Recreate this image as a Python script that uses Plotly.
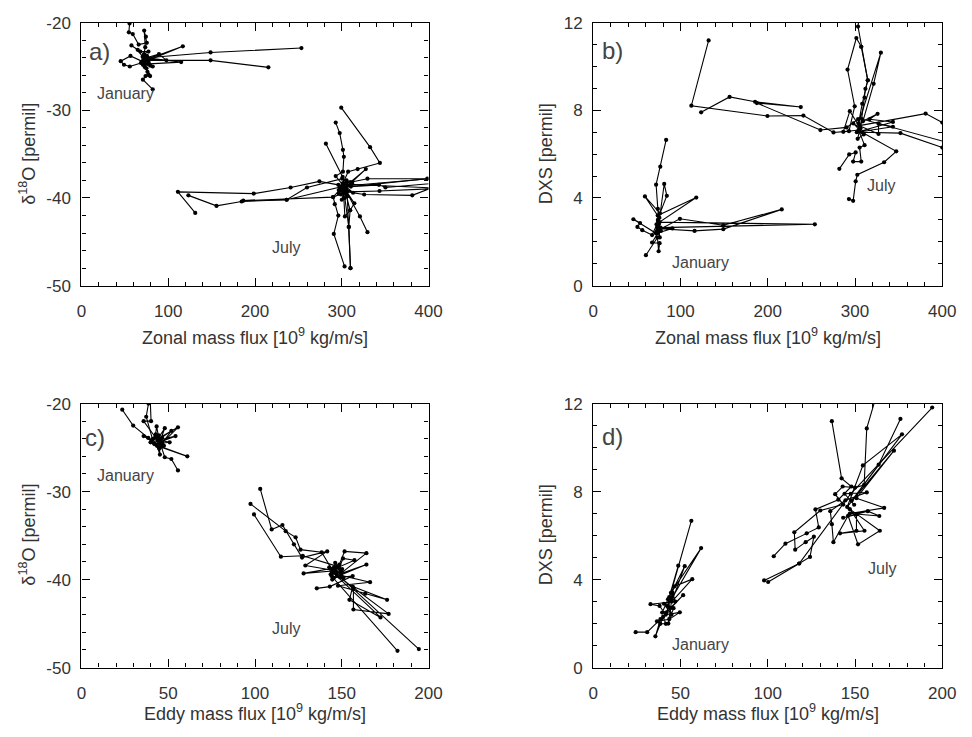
import plotly.graph_objects as go

# ---------------------------------------------------------------
# Trajectories of monthly-mean values (None breaks a track)
# ---------------------------------------------------------------

# a) zonal mass flux vs d18O
a_jan_x = [253.5, 148.8, 76.0, 70.8, 74.9, 71.8, 76.8, 73.0, 78.5, 72.2, 75.6, 72.5, 75.5, 79.1, 82.1, 74.0, 148.8, 215.4, None,
           56.0, 55.4, 54.6, 59.1, 65.9, 75.3, 74.2, 72.3, 73.5, 72.0, 77.2, 67.8, 57.6, 64.8, 70.5, 74.5, 116.8,
           77.5, 76.0, 56.5, 45.2, 49.0, 55.7, 68.5, 72.0, 97.9, 89.3, 74.8, 114.9, 78.0, 71.0, 73.2, 76.0, 77.2,
           79.1, 73.8, 70.8, 82.1]
a_jan_y = [-22.9, -23.4, -24.0, -24.8, -25.2, -23.9, -24.4, -23.8, -24.2, -24.9, -24.5, -24.6, -23.8, -24.9, -25.0, -24.3, -24.3, -25.1, None,
           -19.5, -20.1, -21.1, -21.3, -22.5, -22.3, -21.6, -20.9, -22.8, -23.6, -23.3, -23.3, -22.6, -23.1, -23.9, -24.4, -22.7,
           -24.1, -24.7, -23.8, -24.4, -24.8, -25.0, -24.6, -24.1, -24.3, -23.6, -24.0, -24.5, -24.7, -24.3, -25.1, -25.6, -25.9,
           -26.1, -26.1, -26.5, -27.6]

a_jul_x = [131.1, 111.1, 198.5, 241.0, 274.2, 296.0, 303.5, 299.0, 306.0, 300.5, 259.9, 236.5, 184.6, 155.6, 123.2, None,
           299.4, 332.6, 343.9, 318.3, 307.3, 301.5, 305.0, 293.0, 301.3, 302.4, 301.3, 297.6, 293.0, None,
           281.7, 301.0, 304.0, 327.7, 310.0, 329.6, 398.5, 310.5, 342.8, 350.3, 420.0, 381.2, 325.8, 306.0, 343.5, 415.0,
           302.0, 298.0, 306.5, 300.0, 304.5, 236.5, 186.5, 290.0, 302.0, 303.6, 309.6, 314.5, 303.0, 320.9, 329.6, None,
           303.2, 290.8, 296.0, 291.9, 290.0, 299.0, 305.5, 310.0, 308.1, 309.6, 305.0, 296.5, 312.0, 300.5, 307.0, 425.0, None,
           310.0, 308.1, 303.5, 298.0, 313.0, 301.0, 296.5, 304.0]
a_jul_y = [-41.7, -39.3, -39.5, -38.8, -38.1, -38.5, -39.2, -39.6, -38.2, -37.8, -38.8, -40.2, -40.4, -40.9, -39.7, None,
           -29.7, -34.2, -36.0, -36.7, -37.0, -38.3, -39.0, -37.5, -37.0, -35.3, -34.5, -32.6, -31.4, None,
           -33.8, -37.6, -38.9, -36.7, -38.2, -37.8, -37.8, -38.7, -38.5, -38.8, -38.2, -39.7, -39.6, -39.3, -39.2, -38.9,
           -38.4, -39.0, -39.8, -40.2, -38.6, -40.2, -40.3, -39.9, -39.4, -42.1, -41.4, -40.6, -38.9, -42.1, -43.9, None,
           -47.8, -44.1, -42.0, -40.7, -39.9, -38.9, -38.0, -48.0, -43.3, -41.4, -39.6, -39.1, -38.3, -39.0, -38.6, -37.6, None,
           -48.0, -43.3, -40.0, -38.7, -39.4, -38.4, -39.5, -38.8]

# b) zonal mass flux vs deuterium excess
b_jan_x = [83.5, 76.8, 72.0, 74.0, 75.0, 81.3, 84.3, 76.5, 59.2, 73.8, 118.0, 76.0, 73.0, 99.3, 149.0, 216.0, 149.0,
           116.1, 76.5, 72.5, 77.5, 74.0, 76.2, 73.2, 75.8, 71.5, 46.0, 53.6, 50.6, 56.2, 67.4, 74.2, 253.9, 77.0,
           90.6, 74.0, 67.4, 76.0, 74.9, 73.5, 60.3]
b_jan_y = [6.65, 5.43, 4.61, 3.5, 2.8, 4.64, 4.10, 3.3, 4.07, 3.2, 4.02, 2.9, 2.5, 3.05, 2.76, 3.48, 2.58,
           2.50, 2.6, 2.8, 2.5, 3.0, 2.2, 2.65, 3.1, 2.4, 3.03, 2.86, 2.68, 2.53, 2.31, 2.9, 2.80, 2.65,
           2.61, 2.4, 1.97, 1.94, 1.57, 2.2, 1.39]

b_jul_x = [123.6, 156.2, 185.4, 237.8, 187.5, 260.3, 290.3, 303.5, 306.2, 310.9, 311.9, 314.6, 307.1, 303.4, 305.5, None,
           132.2, 112.4, 199.6, 240.8, 275.3, 293.0, 299.6, 291.4, 301.5, 307.1, 314.6, 308.2, 304.0, 329.6, 321.3,
           309.0, 325.8, 316.5, 343.4, 302.0, 343.4, 326.9, 326.9, 305.0, 380.9, 400.0, 415.0, None,
           420.0, 400.0, 352.0, 308.0, 347.2, 333.3, 302.6, 300.7, 297.8, 293.0, None,
           282.0, 293.3, 300.7, 297.8, 307.1, 305.2, 310.9, 304.0, 286.5, 294.0, 306.0, 298.0, 310.0, 303.0, 308.0, 418.0]
b_jul_y = [7.91, 8.61, 8.39, 8.15, 8.33, 7.10, 7.22, 7.6, 7.17, 8.58, 8.98, 9.37, 10.9, 11.82, 12.6, None,
           11.19, 8.21, 7.74, 7.76, 6.99, 7.05, 8.18, 9.86, 11.3, 10.9, 9.37, 8.3, 7.4, 10.63, 9.21,
           7.5, 7.84, 7.59, 7.47, 7.0, 7.25, 7.39, 6.92, 7.3, 7.85, 7.44, 7.2, None,
           6.2, 6.3, 6.96, 7.0, 6.13, 5.63, 5.06, 4.76, 3.87, 3.95, None,
           5.33, 5.99, 6.08, 5.66, 5.66, 6.30, 6.41, 7.1, 7.02, 7.96, 7.2, 7.4, 6.9, 6.7, 7.6, 6.4]

# c) eddy mass flux vs d18O
c_jan_x = [23.5, 29.8, 38.5, 42.0, 35.8, 41.0, 37.3, 38.6, 37.0, None,
           39.5, 40.1, 35.8, 42.5, 43.3, 45.0, 48.0, 44.0, 55.6, 46.5, 51.8, 43.8, 54.2, 42.0, 50.8, 41.2, 46.5,
           44.8, 39.8, 47.5, 42.8, 44.5, 45.2, 43.5, 61.0, 46.0, 48.0, 51.8, 55.6]
c_jan_y = [-20.7, -22.5, -23.9, -24.5, -23.7, -24.1, -21.5, -20.0, -19.0, None,
           -19.0, -22.0, -22.0, -23.8, -22.6, -24.4, -22.8, -24.0, -22.7, -24.5, -23.1, -24.2, -23.7, -24.6, -24.4, -24.0, -23.9,
           -25.1, -24.4, -24.8, -23.5, -23.6, -25.8, -24.8, -26.0, -24.9, -26.1, -26.3, -27.6]

c_jul_x = [103.0, 109.6, 115.8, 122.4, 127.1, 141.6, 129.0, 146.5, 128.0, 148.0, 151.6, 164.2, 149.5, 164.2, 145.5,
           156.3, 143.1, 135.6, None,
           97.4, 117.7, 123.4, 126.2, 138.4, 144.5, 157.3, 150.7, 147.0, 166.3, 147.8, 163.5, 176.1, 156.3, 154.4,
           172.3, 145.0, 177.0, 156.7, 156.7, 149.0, 194.4, None,
           99.4, 114.9, 127.5, 147.5, 145.5, 149.8, 143.6, 148.6, 151.0, 146.2, 144.5, 150.2, 142.8, 144.1, 182.1]
c_jul_y = [-29.7, -34.3, -33.8, -36.0, -37.5, -36.8, -38.4, -39.0, -39.3, -38.6, -36.8, -37.0, -39.3, -38.3, -39.8,
           -39.6, -40.8, -41.0, None,
           -31.4, -34.5, -35.2, -36.6, -36.9, -38.9, -37.8, -37.6, -39.4, -40.3, -40.7, -41.6, -42.3, -40.8, -42.3,
           -44.3, -39.2, -43.9, -43.4, -41.0, -39.7, -47.9, None,
           -32.6, -37.4, -37.3, -38.5, -38.6, -39.0, -39.4, -38.3, -39.8, -38.1, -40.0, -38.8, -38.6, -39.6, -48.1]

# d) eddy mass flux vs deuterium excess
d_jan_x = [56.2, 44.5, 61.8, 42.5, 48.7, 43.5, 52.4, 45.0, 56.7, 46.4, 42.0, 51.5, 44.0, 40.5, 44.8, 42.8, 39.5,
           46.0, 43.0, 45.5, 47.0, 32.8, 38.0, 41.5, 49.6, 43.5, 36.5, 38.4, 41.6, 40.0, 35.6, 38.5, 30.9, 24.3]
d_jan_y = [6.67, 3.4, 5.43, 2.8, 4.63, 3.2, 4.61, 3.0, 4.02, 3.69, 2.5, 3.29, 2.7, 2.9, 2.4, 3.1, 2.5,
           2.7, 2.0, 3.4, 3.0, 2.88, 2.80, 2.4, 2.51, 2.2, 2.10, 1.99, 1.99, 2.3, 1.42, 2.2, 1.61, 1.61]

d_jul_x = [136.7, 142.3, 147.9, 140.4, 127.3, 129.2, 122.3, 110.1, 103.4, None,
           97.9, 118.0, 124.2, 126.4, 121.7, 115.7, 115.2, 130.1, 143.2, 138.6, 142.9, 150.0, 155.2, 156.7, 162.0, None,
           100.2, 118.0, 147.5, 194.2, None,
           176.0, 163.5, 148.1, 176.9, 154.5, 145.5, 172.3, 150.8, 166.7, 147.0, 163.9, 157.3, 143.2, 150.8, 150.8,
           141.4, 155.4, 147.0, 164.2, 151.7, 146.0, 137.6, 136.7, 135.8, 144.5, 156.7, 144.0, 149.5]
d_jul_y = [11.2, 8.6, 8.23, 7.63, 7.19, 6.37, 6.1, 5.63, 5.06, None,
           3.96, 4.73, 5.03, 5.95, 5.7, 5.36, 6.15, 7.14, 7.41, 7.88, 8.23, 8.18, 8.3, 10.87, 12.3, None,
           3.89, 4.73, 7.9, 11.82, None,
           11.3, 9.22, 7.59, 10.6, 9.19, 7.3, 9.86, 7.7, 7.26, 7.0, 6.89, 7.11, 6.81, 6.96, 6.22,
           6.1, 6.22, 7.2, 6.22, 5.6, 6.9, 5.7, 6.52, 7.11, 7.6, 7.96, 7.9, 7.4]

# tick values / labels
zonal_ticks = [0, 100, 200, 300, 400]
eddy_ticks = [0, 50, 100, 150, 200]
d18o_ticks = [-50, -40, -30, -20]
dxs_ticks = [0, 4, 8, 12]

# panel labels and month labels (data coordinates)
panel_tags = ["a)", "b)", "c)", "d)"]
month_labels = [
    ("x", "y", "January", 50.3, -28.05), ("x", "y", "July", 236, -45.6),
    ("x2", "y2", "January", 123, 1.07), ("x2", "y2", "July", 330, 4.56),
    ("x3", "y3", "January", 25.1, -28.2), ("x3", "y3", "July", 118, -45.6),
    ("x4", "y4", "January", 61.5, 1.06), ("x4", "y4", "July", 165.2, 4.52),
]

zonal_title = "Zonal mass flux [10<sup>9</sup> kg/m/s]"
eddy_title = "Eddy mass flux [10<sup>9</sup> kg/m/s]"
d18o_title = "\u03b4<sup>18</sup>O [permil]"
dxs_title = "DXS [permil]"

# ---------------------------------------------------------------
W, H = 972, 737
FONT = "Liberation Sans, Arial, Helvetica, sans-serif"
TXT = "#333333"


def px(x):
    return x / W


def py(y):
    return 1 - y / H


left_dom = [px(78), px(432)]
right_dom = [px(600), px(956)]
top_dom = [py(284), py(14)]
bot_dom = [py(676), py(405)]

fig = go.Figure()

series = [
    (a_jan_x, a_jan_y, "x", "y"), (a_jul_x, a_jul_y, "x", "y"),
    (b_jan_x, b_jan_y, "x2", "y2"), (b_jul_x, b_jul_y, "x2", "y2"),
    (c_jan_x, c_jan_y, "x3", "y3"), (c_jul_x, c_jul_y, "x3", "y3"),
    (d_jan_x, d_jan_y, "x4", "y4"), (d_jul_x, d_jul_y, "x4", "y4"),
]
for xs, ys, xa, ya in series:
    fig.add_trace(go.Scatter(
        x=xs, y=ys, xaxis=xa, yaxis=ya, mode="lines+markers",
        line=dict(color="black", width=1.1),
        marker=dict(color="black", size=4.2),
        connectgaps=False, showlegend=False, hoverinfo="skip",
    ))


def axis(domain, anchor, rng, ticks, minor_dtick, standoff):
    return dict(
        domain=domain, anchor=anchor, range=rng,
        tickmode="array", tickvals=ticks, ticktext=[str(t) for t in ticks],
        showgrid=False, zeroline=False, showline=True, linecolor="black", linewidth=1.3,
        mirror="allticks", ticks="inside", ticklen=8, tickwidth=1.1, tickcolor="black",
        minor=dict(dtick=minor_dtick, tick0=0, ticks="inside", ticklen=4, tickwidth=1.1,
                   tickcolor="black", showgrid=False),
        tickfont=dict(family=FONT, size=17, color=TXT),
        ticklabelstandoff=standoff,
        fixedrange=True,
    )


layout = dict(
    width=W, height=H, margin=dict(l=0, r=0, t=0, b=0),
    paper_bgcolor="white", plot_bgcolor="white", showlegend=False,
    xaxis=axis(left_dom, "y", [0, 400], zonal_ticks, 20, 10),
    yaxis=axis(top_dom, "x", [-50, -20], d18o_ticks, 2, 6),
    xaxis2=axis(right_dom, "y2", [0, 400], zonal_ticks, 20, 10),
    yaxis2=axis(top_dom, "x2", [0, 12], dxs_ticks, 1, 6),
    xaxis3=axis(left_dom, "y3", [0, 200], eddy_ticks, 10, 10),
    yaxis3=axis(bot_dom, "x3", [-50, -20], d18o_ticks, 2, 6),
    xaxis4=axis(right_dom, "y4", [0, 200], eddy_ticks, 10, 10),
    yaxis4=axis(bot_dom, "x4", [0, 12], dxs_ticks, 1, 6),
)
fig.update_layout(**layout)

ann = []
# axis titles
for txt, x, y, ang in [
    (zonal_title, (78 + 432) / 2, 336, 0),
    (zonal_title, (600 + 956) / 2, 336, 0),
    (eddy_title, (78 + 432) / 2, 722, 0),
    (eddy_title, (600 + 956) / 2, 722, 0),
    (d18o_title, 23, 149, -90),
    (dxs_title, 552, 149, -90),
    (d18o_title, 23, 540, -90),
    (dxs_title, 552, 540, -90),
]:
    ann.append(dict(text=txt, x=px(x), y=py(y), xref="paper", yref="paper", showarrow=False,
                    textangle=ang, xanchor="center", yanchor="middle",
                    font=dict(family=FONT, size=18, color=TXT)))

# panel tags
for tag, (tx, ty) in zip(panel_tags, [(84, 44), (607, 43), (80, 440), (607, 439)]):
    ann.append(dict(text=tag, x=px(tx), y=py(ty), xref="paper", yref="paper",
                    showarrow=False, xanchor="left", yanchor="middle",
                    font=dict(family=FONT, size=24, color="#444444")))

# month labels
for xa, ya, txt, x, y in month_labels:
    ann.append(dict(text=txt, x=x, y=y, xref=xa, yref=ya, showarrow=False,
                    xanchor="center", yanchor="middle",
                    font=dict(family=FONT, size=16, color="#444444")))

fig.update_layout(annotations=ann)
fig.write_html("out.html")
